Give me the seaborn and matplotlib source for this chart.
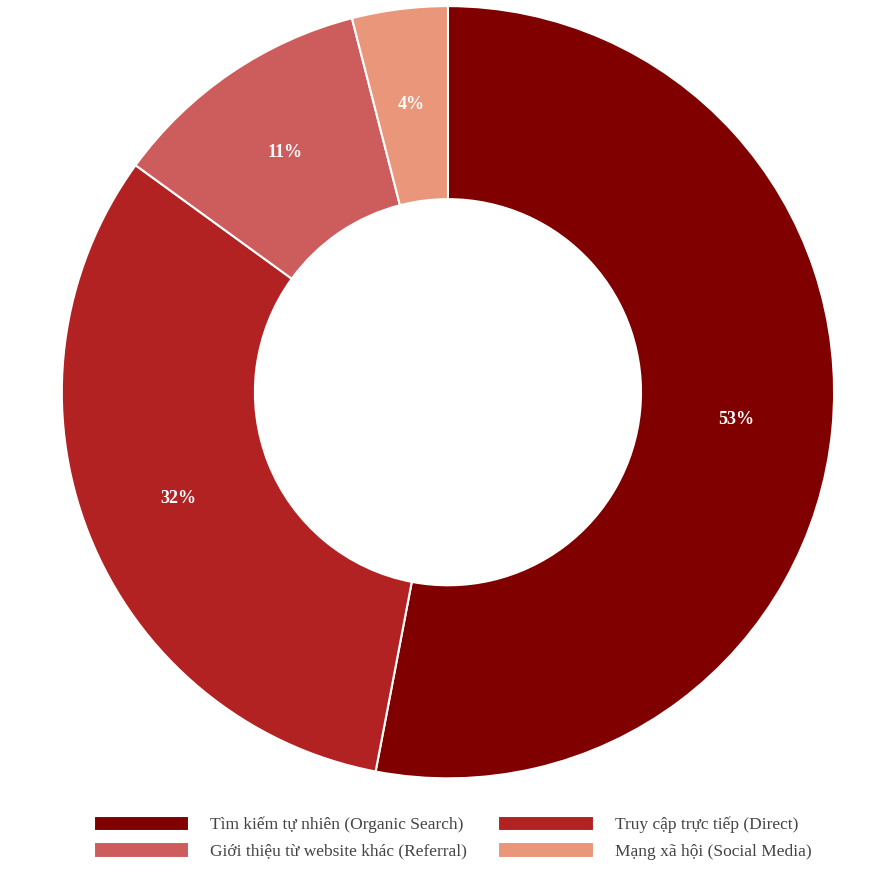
import matplotlib
matplotlib.use("Agg")
import matplotlib.pyplot as plt
import seaborn as sns

# data
labels = ["Tìm kiếm tự nhiên (Organic Search)", "Truy cập trực tiếp (Direct)",
          "Giới thiệu từ website khác (Referral)", "Mạng xã hội (Social Media)"]
values = [53, 32, 11, 4]
colors = ["#800000", "#B22222", "#CD5C5C", "#E9967A"]

sns.set_theme(style="white")
plt.rcParams['font.family'] = ['Liberation Serif', 'DejaVu Serif']

fig = plt.figure(figsize=(8.96, 8.96), dpi=100)
ax = fig.add_axes([0.0647, 0.127, 0.8705, 0.8705])

wedges, texts, autotexts = ax.pie(
    values, colors=colors, startangle=90, counterclock=False,
    autopct='%1.0f%%', pctdistance=0.75,
    wedgeprops=dict(width=0.5, edgecolor='white', linewidth=1.5),
    textprops=dict(color='white', fontweight='bold', fontsize=13))
ax.set_xlim(-1.01, 1.01)
ax.set_ylim(-1.01, 1.01)
ax.set_aspect('equal')

# legend filled row-wise like the reference
order = [0, 2, 1, 3]
fig.legend([wedges[i] for i in order], [labels[i] for i in order], ncol=2,
           loc='center', bbox_to_anchor=(0.505, 0.065),
           frameon=False, fontsize=12.5, handlelength=5.5, handleheight=1.0,
           columnspacing=1.8, labelcolor='#444444', handletextpad=1.2)

fig.savefig("out.png", dpi=100)
